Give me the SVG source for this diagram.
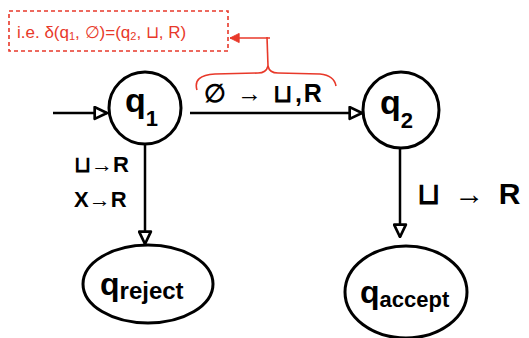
<svg xmlns="http://www.w3.org/2000/svg" width="529" height="338" viewBox="0 0 529 338">
  <style>
    .state { fill: none; stroke: #000; stroke-width: 3; }
    .edge { fill: none; stroke: #000; stroke-width: 2.5; }
    .lbl { font-family: "Liberation Sans", Arial, sans-serif; font-weight: bold; fill: #000; }
    .note { fill: none; stroke: #e8392a; stroke-width: 1.6; }
    .noteText { font-family: "Liberation Sans", Arial, sans-serif; fill: #e8392a; }
  </style>
  <defs>
    <marker id="head" viewBox="0 0 14 14" refX="13" refY="7" markerWidth="15" markerHeight="15" markerUnits="userSpaceOnUse" orient="auto">
      <path d="M1.5,1.5 L13,7 L1.5,12.5 Z" fill="#fff" stroke="#000" stroke-width="2.5" stroke-linejoin="round"/>
    </marker>
    <marker id="redHead" viewBox="0 0 12 12" refX="11" refY="6" markerWidth="11" markerHeight="11" markerUnits="userSpaceOnUse" orient="auto">
      <path d="M1,1 L11,6 L1,11 Z" fill="#e8392a" stroke="#e8392a" stroke-width="1"/>
    </marker>
  </defs>

  <!-- annotation -->
  <g id="note">
    <rect x="9" y="11" width="219" height="40" class="note" stroke-dasharray="4 3"/>
    <text x="17" y="38" font-size="17" class="noteText">i.e. δ(q<tspan font-size="11" dy="2">1</tspan><tspan dy="-2">, ∅)=(q</tspan><tspan font-size="11" dy="2">2</tspan><tspan dy="-2">, ⊔, R)</tspan></text>
    <path d="M270,38 L230,38" class="note" marker-end="url(#redHead)"/>
    <path d="M267,37 L268,66" class="note"/>
    <path d="M197,90 C194,80 200,75 215,74 L258,73 C264,73 267,70 268,66 C269,71 272,73 278,73 L320,74 C330,75 335,80 336,86" class="note"/>
  </g>

  <!-- connectors -->
  <g id="connectors">
    <path d="M53,113 L107,113" class="edge" marker-end="url(#head)"/>
    <path d="M190,113 L362,113" class="edge" marker-end="url(#head)"/>
    <path d="M145,144 L145,244" class="edge" marker-end="url(#head)"/>
    <path d="M400,148 L400,237" class="edge" marker-end="url(#head)"/>
    <text x="204" y="102" font-size="25" class="lbl" letter-spacing="2">∅ → ⊔,R</text>
    <text x="74" y="172" font-size="22" class="lbl">⊔→R</text>
    <text x="74" y="207" font-size="22" class="lbl">X→R</text>
    <text x="417" y="204" font-size="30" class="lbl" letter-spacing="3">⊔ → R</text>
  </g>

  <!-- states -->
  <g id="q1">
    <circle cx="145" cy="108" r="36" class="state"/>
    <text x="125" y="112" font-size="34" class="lbl">q<tspan font-size="22" dy="14">1</tspan></text>
  </g>
  <g id="q2">
    <circle cx="401" cy="110" r="38" class="state"/>
    <text x="380" y="114" font-size="34" class="lbl">q<tspan font-size="22" dy="14">2</tspan></text>
  </g>
  <g id="qreject">
    <ellipse cx="148" cy="284" rx="65" ry="39" class="state"/>
    <text x="100" y="295" font-size="32" class="lbl">q<tspan font-size="24" dy="4">reject</tspan></text>
  </g>
  <g id="qaccept">
    <ellipse cx="406" cy="292" rx="61" ry="46" class="state"/>
    <text x="360" y="303" font-size="32" class="lbl">q<tspan font-size="22" dy="4">accept</tspan></text>
  </g>
</svg>
